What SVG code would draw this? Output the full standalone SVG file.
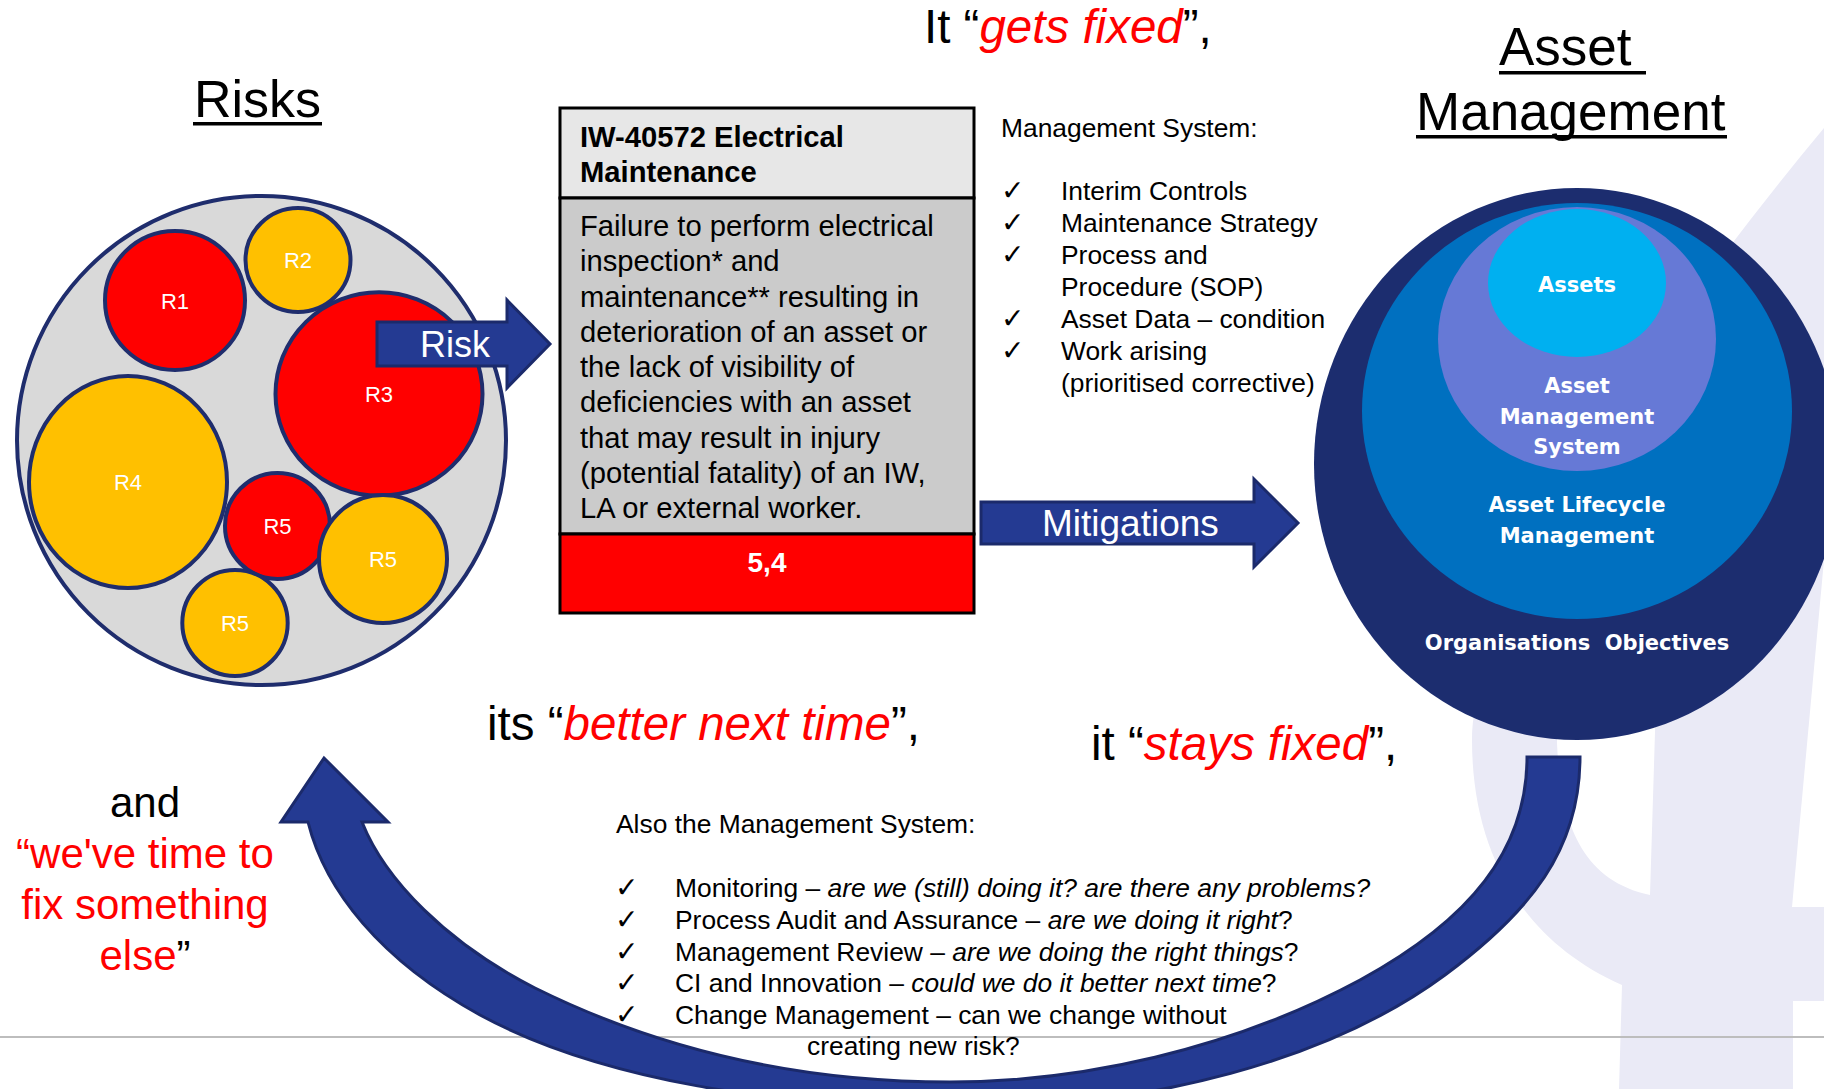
<svg xmlns="http://www.w3.org/2000/svg" width="1824" height="1089" viewBox="0 0 1824 1089">
<style>
.t{font-family:"Liberation Sans",Arial,sans-serif}
.b{font-weight:bold}
.i{font-style:italic}
.red{fill:#ff0000}
.blk{fill:#000}
.wh{fill:#fff}
.ck{font-family:"DejaVu Sans",sans-serif;font-size:28px;fill:#000}
.rc{stroke:#1f2d6d;stroke-width:4}
.rr{fill:#ff0000}
.ro{fill:#ffc000}
.rl{font-family:"Liberation Sans",Arial,sans-serif;font-size:22px;fill:#fff;text-anchor:middle}
.arrow{fill:#243a92;stroke:#1b2a6b;stroke-width:3;stroke-linejoin:miter}
.on{font-family:"DejaVu Sans",sans-serif;font-weight:bold;fill:#fff;font-size:21px;text-anchor:middle}
.s26{font-size:26.4px}
.s29{font-size:29.2px}
.ul{fill:#000}
</style>
<rect x="0" y="0" width="1824" height="1089" fill="#fff"/>
<g id="background">
<path fill="#eaeaf6" fill-rule="evenodd" d="M 1824,128 C 1613,381 1472,626 1472,740 C 1472,850 1520,940 1622,985 L 1619,1089 L 1793,1089 L 1793,1001 L 1824,1001 L 1824,907 L 1792,907 L 1824,560 Z M 1557,700 L 1557,743 C 1560,820 1580,880 1650,895 L 1656,700 Z"/>
<line x1="0" y1="1037" x2="1824" y2="1037" stroke="#bdbdbd" stroke-width="2"/>
</g>
<g id="risks">
<text class="t" x="194" y="117" font-size="52">Risks</text>
<rect class="ul" x="193" y="122" width="129" height="3.5"/>
<ellipse cx="261.5" cy="440.5" rx="244.5" ry="244.5" fill="#d9d9d9" class="rc"/>
<g id="r1"><ellipse class="rr rc" cx="175" cy="300.5" rx="70" ry="69.5"/><text class="rl" x="175" y="308.5">R1</text></g>
<g id="r2"><ellipse class="ro rc" cx="298" cy="260" rx="52.5" ry="52"/><text class="rl" x="298" y="268">R2</text></g>
<g id="r3"><ellipse class="rr rc" cx="379" cy="394" rx="103.5" ry="101.7"/><text class="rl" x="379" y="402">R3</text></g>
<g id="r4"><ellipse class="ro rc" cx="128" cy="482" rx="99" ry="106"/><text class="rl" x="128" y="490">R4</text></g>
<g id="r5a"><ellipse class="rr rc" cx="277.5" cy="526" rx="52.5" ry="53"/><text class="rl" x="277.5" y="534">R5</text></g>
<g id="r5b"><ellipse class="ro rc" cx="383" cy="559" rx="64" ry="64"/><text class="rl" x="383" y="567">R5</text></g>
<g id="r5c"><ellipse class="ro rc" cx="235" cy="623" rx="52.7" ry="53"/><text class="rl" x="235" y="631">R5</text></g>
</g>
<g id="risk-box">
<rect x="560" y="108" width="414" height="90" fill="#e7e7e7" stroke="#000" stroke-width="3"/>
<rect x="560" y="198" width="414" height="336" fill="#cbcbcb" stroke="#000" stroke-width="3"/>
<rect x="560" y="534" width="414" height="79" fill="#ff0000" stroke="#000" stroke-width="3"/>
<text class="t b s29" x="580" y="147">IW-40572 Electrical</text>
<text class="t b s29" x="580" y="182">Maintenance</text>
<g class="t s29">
<text x="580" y="236">Failure to perform electrical</text>
<text x="580" y="271">inspection* and</text>
<text x="580" y="307">maintenance** resulting in</text>
<text x="580" y="342">deterioration of an asset or</text>
<text x="580" y="377">the lack of visibility of</text>
<text x="580" y="412">deficiencies with an asset</text>
<text x="580" y="448">that may result in injury</text>
<text x="580" y="483">(potential fatality) of an IW,</text>
<text x="580" y="518">LA or external worker.</text>
</g>
<text class="t b wh" x="767" y="572" font-size="28" text-anchor="middle">5,4</text>
</g>
<g id="asset-management">
<text class="t" x="1499" y="65" font-size="53">Asset</text>
<rect class="ul" x="1499" y="71" width="147" height="3.5"/>
<text class="t" x="1416" y="130" font-size="53">Management</text>
<rect class="ul" x="1416" y="135" width="311" height="3.5"/>
<ellipse cx="1577" cy="464" rx="263" ry="276" fill="#1c2d6f"/>
<ellipse cx="1577" cy="411" rx="215" ry="208" fill="#0070c0"/>
<ellipse cx="1577" cy="339" rx="139" ry="132" fill="#6679d6"/>
<ellipse cx="1577" cy="283" rx="89" ry="74" fill="#00b0f0"/>
<text class="on" x="1577" y="292">Assets</text>
<text class="on" x="1577" y="393">Asset</text>
<text class="on" x="1577" y="424">Management</text>
<text class="on" x="1577" y="454">System</text>
<text class="on" x="1577" y="512">Asset Lifecycle</text>
<text class="on" x="1577" y="543">Management</text>
<text class="on" x="1577" y="650" font-size="20" style="white-space:pre">Organisations  Objectives</text>
</g>
<g id="connectors">
<path id="risk-arrow" class="arrow" d="M 377,322 L 507,322 L 507,300 L 550,344 L 507,388 L 507,366 L 377,366 Z"/>
<text class="t wh" x="420" y="357" font-size="36">Risk</text>
<path id="mitigations-arrow" class="arrow" d="M 981,502 L 1254,502 L 1254,479 L 1298,523 L 1254,567 L 1254,544 L 981,544 Z"/>
<text class="t wh" x="1042" y="536" font-size="37">Mitigations</text>
<path id="loop-arrow" class="arrow" d="M 1527,757 C 1527,850 1470,920 1360,980 C 1230,1050 1080,1082 950,1082 C 800,1082 660,1050 535,988 C 447,943 385,880 362,822 L 388,822 L 324,758 L 281,822 L 308,822 C 325,890 380,960 480,1015 C 600,1080 780,1108 960,1108 C 1150,1108 1330,1060 1445,975 C 1530,912 1580,850 1580,757 Z"/>
</g>
<g id="management-system" class="t s26">
<text x="1001" y="137">Management System:</text>
<text class="ck" x="1001" y="200">✓</text><text x="1061" y="200">Interim Controls</text>
<text class="ck" x="1001" y="232">✓</text><text x="1061" y="232">Maintenance Strategy</text>
<text class="ck" x="1001" y="264">✓</text><text x="1061" y="264">Process and</text>
<text x="1061" y="296">Procedure (SOP)</text>
<text class="ck" x="1001" y="328">✓</text><text x="1061" y="328">Asset Data – condition</text>
<text class="ck" x="1001" y="360">✓</text><text x="1061" y="360">Work arising</text>
<text x="1061" y="392">(prioritised corrective)</text>
</g>
<g id="phrases" class="t">
<text x="924" y="43" font-size="47.5">It “<tspan class="i red">gets fixed</tspan>”,</text>
<text x="487" y="740" font-size="47.5">its “<tspan class="i red">better next time</tspan>”,</text>
<text x="1091" y="760" font-size="47.5">it “<tspan class="i red">stays fixed</tspan>”,</text>
<g font-size="42" text-anchor="middle">
<text x="145" y="817">and</text>
<text class="red" x="145" y="868">“we've time to</text>
<text class="red" x="145" y="919">fix something</text>
<text x="145" y="970"><tspan class="red">else</tspan>”</text>
</g>
</g>
<g id="also-management-system" class="t s26">
<text x="616" y="833">Also the Management System:</text>
<text class="ck" x="615" y="897">✓</text><text x="675" y="897">Monitoring – <tspan class="i">are we (still) doing it? are there any problems?</tspan></text>
<text class="ck" x="615" y="929">✓</text><text x="675" y="929">Process Audit and Assurance – <tspan class="i">are we doing it right</tspan>?</text>
<text class="ck" x="615" y="961">✓</text><text x="675" y="961">Management Review – <tspan class="i">are we doing the right things</tspan>?</text>
<text class="ck" x="615" y="992">✓</text><text x="675" y="992">CI and Innovation – <tspan class="i">could we do it better next time</tspan>?</text>
<text class="ck" x="615" y="1024">✓</text><text x="675" y="1024">Change Management – can we change without</text>
<text x="807" y="1055">creating new risk?</text>
</g>
</svg>
